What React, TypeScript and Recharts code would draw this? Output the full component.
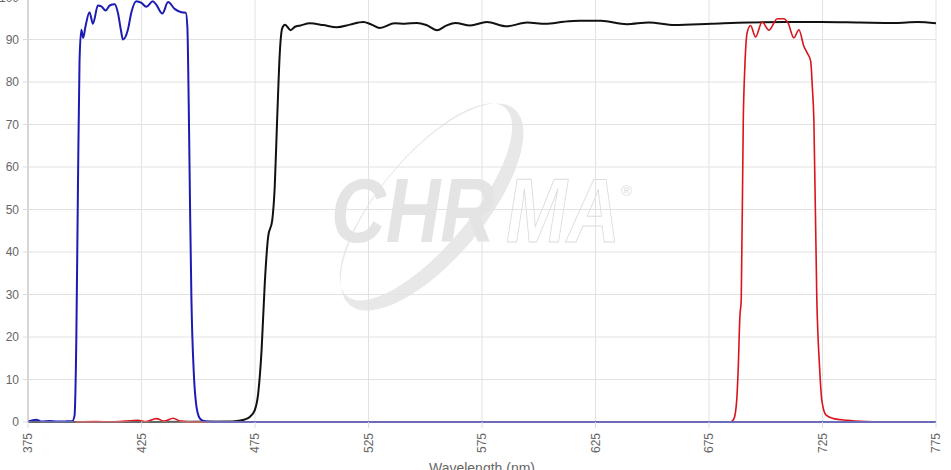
import React from "react"
import { LineChart, Line, XAxis, YAxis, CartesianGrid, Label } from "recharts"

// transmission curves, wavelength (nm) vs %T
const blueNm = [375, 378.6, 381, 384.5, 388, 392, 394.5, 395.5, 396.3, 397, 397.7, 398.5, 399.3, 400.3, 402.1, 403.6, 405.8, 407.3, 409.2, 411, 413.2, 414.6, 416, 416.8, 419, 420.5, 422.7, 425, 427.1, 430, 431.5, 434.2, 436.7, 439.6, 442.6, 444.5, 445.2, 445.8, 446.4, 447, 448, 449, 450.5, 452, 455, 460, 775]
const blueT = [0.1, 0.55, 0.1, 0.25, 0.1, 0.15, 0.2, 1.5, 20, 55, 85, 92.3, 90.4, 93, 96.4, 93.7, 98, 97.8, 96.8, 98, 98.3, 96.3, 92, 90, 92.3, 96.3, 99, 98.6, 97.7, 99, 98.2, 96.1, 98.8, 97.2, 96.4, 96.3, 93, 75, 50, 28.7, 12, 4.5, 1, 0.3, 0.05, 0, 0]

const blackNm = [375, 430, 465, 468, 470.5, 472.7, 474.9, 476.4, 477.9, 479.3, 480.8, 482.6, 483.7, 484.8, 486, 487, 488.2, 490.7, 492.6, 495, 499.2, 505, 511, 516.8, 522.7, 526, 530, 536.5, 541, 546.3, 550.5, 555.2, 559, 563.3, 569.8, 577.1, 586, 594.9, 603, 611.2, 618, 627.4, 638.7, 648.5, 659.8, 676, 692.2, 708.5, 724.7, 741, 757.1, 766.9, 775]
const blackT = [0, 0, 0.1, 0.3, 0.6, 1.2, 2.8, 6.7, 16.9, 32.6, 43.6, 47.5, 55.4, 71.9, 87.6, 92.7, 93.5, 92.2, 93, 93.3, 93.8, 93.4, 92.9, 93.5, 94.1, 93.6, 92.7, 93.8, 93.7, 93.9, 93.4, 92.2, 93.2, 93.9, 93.3, 94.1, 93.1, 94, 93.7, 94.2, 94.4, 94.4, 93.6, 94, 93.4, 93.7, 94, 94.1, 94.1, 94, 93.9, 94.1, 93.8]

const redNm = [396, 405, 412, 418, 423.3, 427, 431.6, 435, 438.9, 442, 446, 450, 684.5, 686, 687.2, 687.9, 688.6, 689.2, 690.1, 690.8, 691.8, 693.3, 695.5, 698.4, 701.4, 705.1, 708, 709.8, 712.4, 714.6, 716.8, 718.3, 719.8, 720.5, 721.2, 722.5, 723.7, 724.7, 726.6, 729.9, 735.8, 744.7, 750]
const redT = [0, 0.1, 0.05, 0.2, 0.4, 0.1, 0.8, 0.2, 0.9, 0.2, 0.05, 0, 0, 0.8, 5.1, 13, 24.8, 28.7, 71.1, 83.7, 91.6, 93.3, 90.6, 94.1, 92.2, 94.9, 94.9, 93.9, 90.4, 92.3, 88.4, 86.8, 84.9, 79, 71.1, 28.7, 13, 5.1, 1.6, 0.8, 0.4, 0.1, 0]

const xTicks = [375, 425, 475, 525, 575, 625, 675, 725, 775]
const yTicks = [0, 10, 20, 30, 40, 50, 60, 70, 80, 90, 100]

const zip = (nm: number[], t: number[]) => nm.map((w, i) => ({ nm: w, t: t[i] }))

const blueData = zip(blueNm, blueT)
const blackData = zip(blackNm, blackT)
const redData = zip(redNm, redT)

const FONT = "'Liberation Sans', Arial, Helvetica, sans-serif"

function RotatedTick(props: any) {
  const { x, y, payload } = props
  return (
    <text
      x={x}
      y={y}
      transform={`rotate(-90, ${x}, ${y})`}
      textAnchor="end"
      dy="0.35em"
      fill="#666"
      fontSize={12}
    >
      {payload.value}
    </text>
  )
}

function ellipsePath(cx: number, cy: number, rx: number, ry: number) {
  return `M ${cx - rx} ${cy} a ${rx} ${ry} 0 1 0 ${2 * rx} 0 a ${rx} ${ry} 0 1 0 ${-2 * rx} 0 Z`
}

function Watermark() {
  const cx = 432
  const cy = 207
  return (
    <svg width={951} height={470} style={{ position: "absolute", left: 0, top: 0 }}>
      <g transform={`rotate(-50 ${cx} ${cy})`}>
        <path
          d={ellipsePath(cx, cy, 128, 52) + " " + ellipsePath(cx, cy - 8, 123, 45)}
          fill="#e8e8e8"
          fillRule="evenodd"
        />
      </g>
      <text
        x={331}
        y={242}
        fontSize={90}
        fontWeight="bold"
        fontStyle="italic"
        fill="#e4e4e4"
        textLength={164}
        lengthAdjust="spacingAndGlyphs"
        fontFamily={FONT}
      >
        CHR
      </text>
      <text
        x={506}
        y={242}
        fontSize={90}
        fontWeight="bold"
        fontStyle="italic"
        fill="none"
        stroke="#dcdcdc"
        strokeWidth={1}
        textLength={114}
        lengthAdjust="spacingAndGlyphs"
        fontFamily={FONT}
      >
        MA
      </text>
      <text x={621} y={196} fontSize={15} fill="#dedede" fontFamily={FONT}>
        ®
      </text>
    </svg>
  )
}

export default function App() {
  return (
    <div
      style={{
        position: "absolute",
        left: 0,
        top: 0,
        width: 951,
        height: 470,
        overflow: "hidden",
        background: "#fff",
        fontFamily: FONT,
      }}
    >
      <Watermark />
      <div style={{ position: "absolute", left: 0, top: -10 }}>
        <LineChart width={951} height={492} margin={{ top: 7, right: 15, bottom: 0, left: 4 }}>
          <CartesianGrid stroke="#e2e2e2" />
          <XAxis
            dataKey="nm"
            type="number"
            domain={[375, 775]}
            ticks={xTicks}
            allowDataOverflow
            height={60}
            tick={<RotatedTick />}
            tickSize={6}
            tickMargin={5}
            tickLine={{ stroke: "#dcdcdc" }}
            axisLine={{ stroke: "#bbb" }}
          >
            <Label value="Wavelength (nm)" position="insideBottom" offset={9} fill="#666" fontSize={14} />
          </XAxis>
          <YAxis
            type="number"
            domain={[0, 100]}
            ticks={yTicks}
            width={24}
            tickSize={5}
            tickMargin={4}
            tick={{ fill: "#666", fontSize: 12 }}
            tickLine={{ stroke: "#dcdcdc" }}
            axisLine={{ stroke: "#bbb" }}
          />
          <Line data={blackData} dataKey="t" type="monotone" stroke="#111" strokeWidth={2} dot={false} activeDot={false} isAnimationActive={false} />
          <Line data={redData} dataKey="t" type="monotone" stroke="#d8141c" strokeWidth={1.6} dot={false} activeDot={false} isAnimationActive={false} />
          <Line data={blueData} dataKey="t" type="monotone" stroke="#1c1cb4" strokeWidth={2} dot={false} activeDot={false} isAnimationActive={false} />
        </LineChart>
      </div>
    </div>
  )
}
